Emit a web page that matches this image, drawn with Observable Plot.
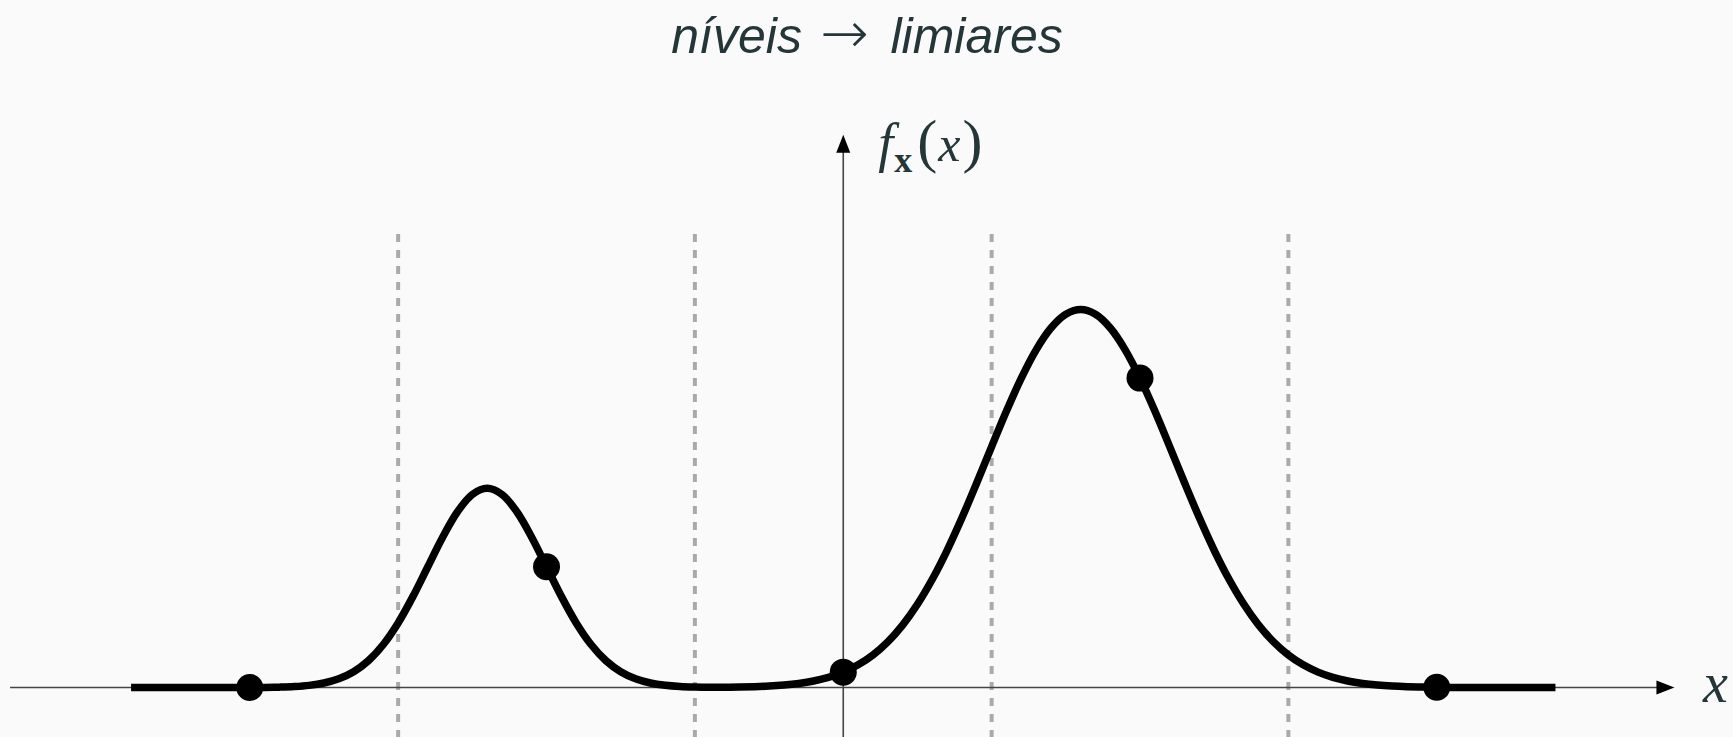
<!DOCTYPE html>
<html><head><meta charset="utf-8">
<script src="https://cdn.jsdelivr.net/npm/d3@7"></script>
<script src="https://cdn.jsdelivr.net/npm/@observablehq/plot@0.6"></script>
<style>html,body{margin:0;padding:0;background:#fafafa;} svg{display:block;}</style>
</head><body><div id="chart"></div>
<script>
// density curve (x in level units, y in density units)
const curveX = [-2.40,-2.35,-2.30,-2.25,-2.20,-2.15,-2.10,-2.05,-2.00,-1.95,-1.90,-1.85,-1.80,-1.75,-1.70,-1.65,-1.60,-1.55,-1.50,-1.45,-1.40,-1.35,-1.30,-1.25,-1.20,-1.15,-1.10,-1.05,-1.00,-0.95,-0.90,-0.85,-0.80,-0.75,-0.70,-0.65,-0.60,-0.55,-0.50,-0.45,-0.40,-0.35,-0.30,-0.25,-0.20,-0.15,-0.10,-0.05,0.00,0.05,0.10,0.15,0.20,0.25,0.30,0.35,0.40,0.45,0.50,0.55,0.60,0.65,0.70,0.75,0.80,0.85,0.90,0.95,1.00,1.05,1.10,1.15,1.20,1.25,1.30,1.35,1.40,1.45,1.50,1.55,1.60,1.65,1.70,1.75,1.80,1.85,1.90,1.95,2.00,2.05,2.10,2.15,2.20,2.25,2.30,2.35,2.40];
const curveY = [0,0,0,0,0,0,0,0.0001,0.0002,0.0004,0.0011,0.0025,0.0055,0.0114,0.0219,0.0397,0.0675,0.1079,0.1619,0.2283,0.3025,0.3764,0.4401,0.4834,0.4987,0.4834,0.4401,0.3764,0.3025,0.2283,0.1619,0.1079,0.0675,0.0397,0.0219,0.0114,0.0056,0.0026,0.0013,0.0008,0.0009,0.0014,0.0023,0.0038,0.0064,0.0104,0.0165,0.0255,0.0386,0.0569,0.0816,0.1144,0.1564,0.2085,0.2711,0.3437,0.4251,0.5128,0.6033,0.6923,0.7747,0.8455,0.9000,0.9344,0.9462,0.9344,0.9000,0.8455,0.7747,0.6923,0.6033,0.5128,0.4251,0.3437,0.2711,0.2085,0.1564,0.1144,0.0816,0.0569,0.0386,0.0255,0.0165,0.0104,0.0064,0.0038,0.0022,0.0013,0.0007,0.0004,0.0002,0.0001,0.0001,0,0,0,0];
const levels = [-2,-1,0,1,2];
const levelDensity = [0.0002,0.3025,0.0386,0.7747,0.0007];
const thresholds = [-1.5,-0.5,0.5,1.5];
const titleParts = ["níveis", "→", "limiares"];
const xLabel = "x";
const yLabelParts = ["f", "x", "(", "x", ")"];

const curve = curveX.map((x,i)=>({x, y: curveY[i]}));
const pts = levels.map((x,i)=>({x, y: levelDensity[i]}));

const arrowHead = {
  draw(ctx, size) {
    const r = Math.sqrt(size/Math.PI);
    const L = 2*r, w = r*0.78;
    ctx.moveTo(0,0); ctx.lineTo(w,L); ctx.lineTo(-w,L); ctx.closePath();
  }
};

const ink = "#243638";
const axisColor = "#444";
const xEnd = 2.801, xStart = -2.806, yTop = 1.384, yBottom = -0.125;
const TITLE_KEY = titleParts.join(" ");
const YLAB_KEY = yLabelParts.join("");

const chart = Plot.plot({
  width: 1733, height: 737,
  margin: 0,
  style: {background: "#fafafa", overflow: "visible"},
  x: {domain: [-2.84, 3.0], range: [0, 1733], axis: null},
  y: {domain: [yBottom, 1.72], range: [737, 0], axis: null},
  marks: [
    Plot.ruleX(thresholds, {x: d=>d, y1: 1.134, y2: yBottom, stroke: "#aaa", strokeWidth: 4, strokeDasharray: "8,8"}),
    Plot.ruleY([0], {x1: xStart, x2: xEnd - 0.03, stroke: axisColor, strokeWidth: 1.6}),
    Plot.ruleX([0], {y1: yBottom, y2: yTop - 0.03, stroke: axisColor, strokeWidth: 1.6}),
    Plot.dot([{x: xEnd, y: 0}], {x: "x", y: "y", symbol: arrowHead, r: 9, fill: "black", stroke: "none", rotate: 90}),
    Plot.dot([{x: 0, y: yTop}], {x: "x", y: "y", symbol: arrowHead, r: 9, fill: "black", stroke: "none"}),
    Plot.line(curve, {x: "x", y: "y", curve: "catmull-rom", stroke: "black", strokeWidth: 7.5, strokeLinecap: "butt", strokeLinejoin: "round"}),
    Plot.dot(pts, {x: "x", y: "y", r: 13.5, fill: "black", stroke: "none"}),
    Plot.text([TITLE_KEY], {frameAnchor: "top", lineAnchor: "bottom", dy: 52, fontFamily: "Liberation Sans", fontStyle: "italic", fontSize: 50, fill: ink}),
    Plot.text([xLabel], {x: 2.939, y: -0.035, textAnchor: "middle", lineAnchor: "bottom", fontFamily: "Liberation Serif", fontStyle: "italic", fontSize: 56, fill: ink}),
    Plot.text([YLAB_KEY], {x: 0.118, y: 1.319, textAnchor: "start", lineAnchor: "bottom", fontFamily: "Liberation Serif", fontSize: 50, fill: ink})
  ]
});
document.getElementById("chart").appendChild(chart);

function setParts(t, parts) {
  t.textContent = "";
  for (const p of parts) {
    const ts = document.createElementNS("http://www.w3.org/2000/svg", "tspan");
    ts.textContent = p.s;
    for (const [k, v] of Object.entries(p)) if (k !== "s") ts.setAttribute(k, v);
    t.appendChild(ts);
  }
}

chart.querySelectorAll("text").forEach(t => {
  if (t.textContent === YLAB_KEY) {
    setParts(t, [
      {s: yLabelParts[0], "font-style": "italic", "font-size": 54},
      {s: yLabelParts[1], "font-weight": "bold", "font-size": 36, dy: 11, dx: 1},
      {s: yLabelParts[2], "font-size": 60, dy: -11, dx: 5},
      {s: yLabelParts[3], "font-style": "italic", "font-size": 50, dx: 1},
      {s: yLabelParts[4], "font-size": 60, dx: 2}
    ]);
  } else if (t.textContent === TITLE_KEY) {
    setParts(t, [
      {s: titleParts[0]},
      {s: titleParts[1], "font-family": "DejaVu Sans", "font-style": "normal", "font-weight": 200, "font-size": 58, dx: 18},
      {s: titleParts[2], dx: 22}
    ]);
  }
});
</script>
</body></html>
